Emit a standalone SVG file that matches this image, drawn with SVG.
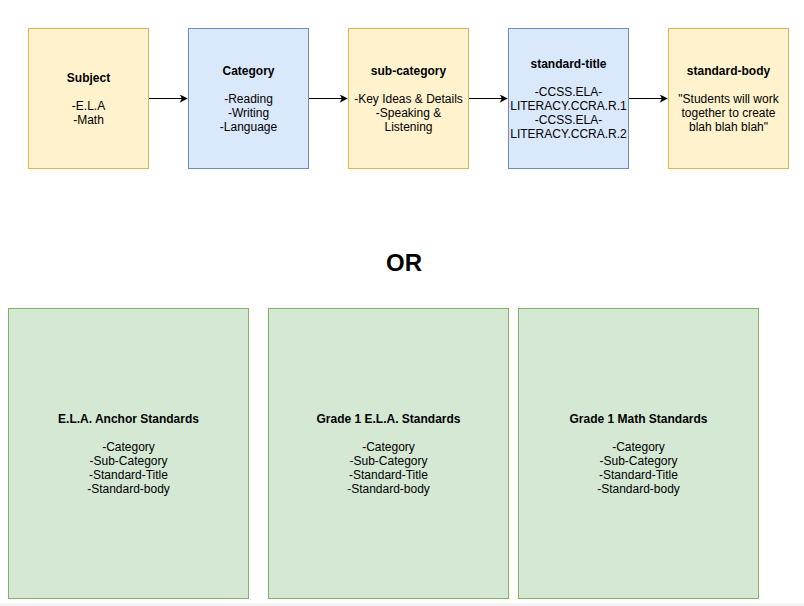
<svg xmlns="http://www.w3.org/2000/svg" width="804" height="606" viewBox="0 0 804 606">
<style>
text{font-family:"Liberation Sans",Arial,sans-serif;font-size:12px;fill:#000;text-anchor:middle}
.b{font-weight:bold}
.y{fill:#fff2cc;stroke:#d6b656;stroke-width:1}
.bl{fill:#dae8fc;stroke:#6c8ebf;stroke-width:1}
.g{fill:#d5e8d4;stroke:#82b366;stroke-width:1}
.e{stroke:#000;stroke-width:1;fill:none}
</style>
<defs>
<marker id="ah" viewBox="0 0 10 10" refX="9" refY="5" markerWidth="8" markerHeight="8" markerUnits="userSpaceOnUse" orient="auto">
<path d="M0,0 L10,5 L0,10 L2.5,5 Z" fill="#000"/>
</marker>
</defs>
<rect width="804" height="606" fill="#fff"/>
<rect x="0" y="603" width="804" height="3" fill="#f3f3f3"/>
<g id="edges">
<line class="e" x1="148.5" y1="98.5" x2="187" y2="98.5" marker-end="url(#ah)"/>
<line class="e" x1="308.5" y1="98.5" x2="347" y2="98.5" marker-end="url(#ah)"/>
<line class="e" x1="468.5" y1="98.5" x2="507" y2="98.5" marker-end="url(#ah)"/>
<line class="e" x1="628.5" y1="98.5" x2="667" y2="98.5" marker-end="url(#ah)"/>
</g>
<g id="subject">
<rect class="y" x="28.5" y="28.5" width="120" height="140"/>
<text x="88.5" y="82" class="b">Subject</text>
<text x="88.5" y="110">-E.L.A</text>
<text x="88.5" y="124">-Math</text>
</g>
<g id="category">
<rect class="bl" x="188.5" y="28.5" width="120" height="140"/>
<text x="248.5" y="75" class="b">Category</text>
<text x="248.5" y="103">-Reading</text>
<text x="248.5" y="117">-Writing</text>
<text x="248.5" y="131">-Language</text>
</g>
<g id="subcategory">
<rect class="y" x="348.5" y="28.5" width="120" height="140"/>
<text x="408.5" y="75" class="b">sub-category</text>
<text x="408.5" y="103">-Key Ideas &amp; Details</text>
<text x="408.5" y="117">-Speaking &amp;</text>
<text x="408.5" y="131">Listening</text>
</g>
<g id="standard-title">
<rect class="bl" x="508.5" y="28.5" width="120" height="140"/>
<text x="568.5" y="68" class="b">standard-title</text>
<text x="568.5" y="96">-CCSS.ELA-</text>
<text x="568.5" y="110">LITERACY.CCRA.R.1</text>
<text x="568.5" y="124">-CCSS.ELA-</text>
<text x="568.5" y="138">LITERACY.CCRA.R.2</text>
</g>
<g id="standard-body">
<rect class="y" x="668.5" y="28.5" width="120" height="140"/>
<text x="728.5" y="75" class="b">standard-body</text>
<text x="728.5" y="103">"Students will work</text>
<text x="728.5" y="117">together to create</text>
<text x="728.5" y="131">blah blah blah"</text>
</g>
<g id="or">
<text x="404" y="271" class="b" style="font-size:24px">OR</text>
</g>
<g id="ela-anchor">
<rect class="g" x="8.5" y="308.5" width="240" height="290"/>
<text x="128.5" y="423" class="b">E.L.A. Anchor Standards</text>
<text x="128.5" y="451">-Category</text>
<text x="128.5" y="465">-Sub-Category</text>
<text x="128.5" y="479">-Standard-Title</text>
<text x="128.5" y="493">-Standard-body</text>
</g>
<g id="grade1-ela">
<rect class="g" x="268.5" y="308.5" width="240" height="290"/>
<text x="388.5" y="423" class="b">Grade 1 E.L.A. Standards</text>
<text x="388.5" y="451">-Category</text>
<text x="388.5" y="465">-Sub-Category</text>
<text x="388.5" y="479">-Standard-Title</text>
<text x="388.5" y="493">-Standard-body</text>
</g>
<g id="grade1-math">
<rect class="g" x="518.5" y="308.5" width="240" height="290"/>
<text x="638.5" y="423" class="b">Grade 1 Math Standards</text>
<text x="638.5" y="451">-Category</text>
<text x="638.5" y="465">-Sub-Category</text>
<text x="638.5" y="479">-Standard-Title</text>
<text x="638.5" y="493">-Standard-body</text>
</g>
</svg>
